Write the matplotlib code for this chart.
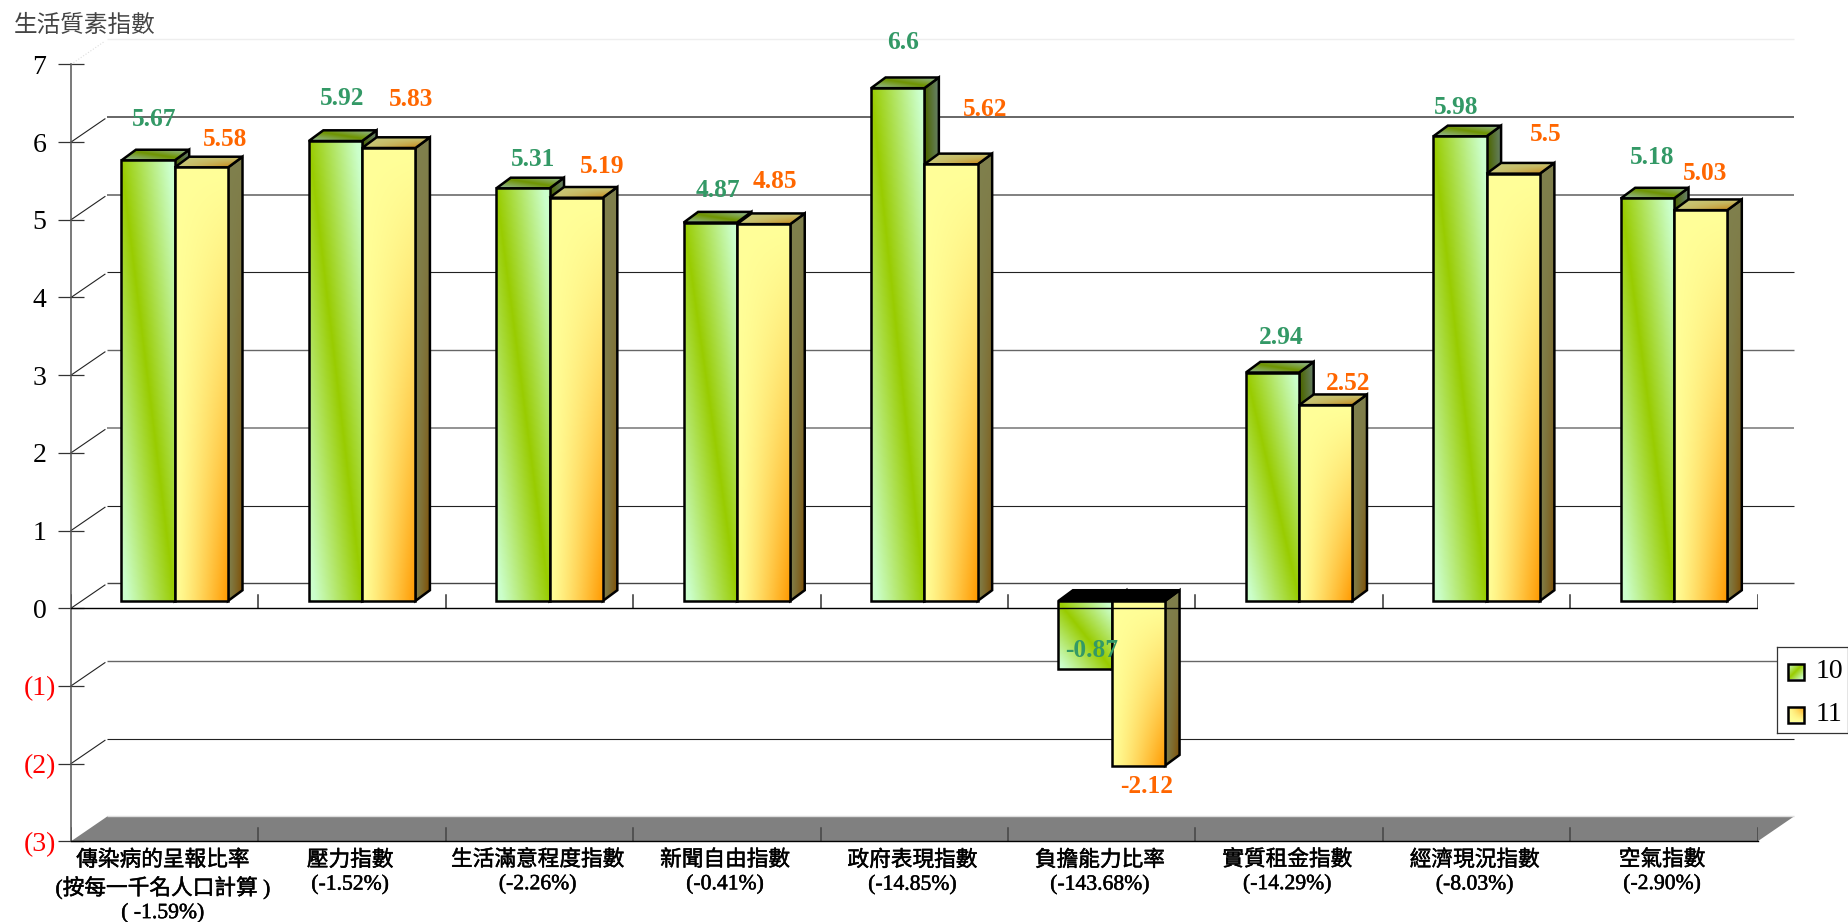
import numpy as np
import matplotlib
matplotlib.use("Agg")
import matplotlib.pyplot as plt
import matplotlib.patheffects as pe
from matplotlib.patches import Polygon
from matplotlib.transforms import ScaledTranslation

plt.rcParams["font.family"] = ["Liberation Serif", "Noto Sans CJK TC"]

# -----------------------------
# Data
# -----------------------------
categories = [
    "傳染病的呈報比率\n(按每一千名人口計算 )\n( -1.59%)",
    "壓力指數\n(-1.52%)",
    "生活滿意程度指數\n(-2.26%)",
    "新聞自由指數\n(-0.41%)",
    "政府表現指數\n(-14.85%)",
    "負擔能力比率\n(-143.68%)",
    "實質租金指數\n(-14.29%)",
    "經濟現況指數\n(-8.03%)",
    "空氣指數\n(-2.90%)",
]
values_10 = [5.67, 5.92, 5.31, 4.87, 6.6, -0.87, 2.94, 5.98, 5.18]
values_11 = [5.58, 5.83, 5.19, 4.85, 5.62, -2.12, 2.52, 5.5, 5.03]
y_levels = [7, 6, 5, 4, 3, 2, 1, 0, -1, -2, -3]
y_labels = ["7", "6", "5", "4", "3", "2", "1", "0", "(1)", "(2)", "(3)"]
series_names = ["10", "11"]

# label offsets from the bar end, in pixels
dx_10 = [6.5, 6.5, 10, 8, 5.5, 7, 8.5, -3.5, 4.5]
dy_10 = [41, 43, 29, 32, 46, 18, 35, 29, 41]
dx_11 = [23.5, 22, 25.5, 11.5, 34, 8, 22, 32, 4.5]
dy_11 = [28, 48, 31, 43, 55, -21, 22, 39, 37]

# wall line style per level: colour, width
wall_style = {
    7: ("#eeeeee", 1.0), 6: ("#666666", 1.4), 5: ("#808080", 1.4),
    4: ("#222222", 0.8), 3: ("#666666", 1.0), 2: ("#808080", 1.2),
    1: ("#222222", 0.8), 0: ("#444444", 1.0), -1: ("#666666", 1.0),
    -2: ("#222222", 0.8), -3: ("#dddddd", 1.0),
}

GREEN_DARK = np.array([0x99, 0xCC, 0x00]) / 255
GREEN_PALE = np.array([0xCC, 0xFF, 0xCC]) / 255
YELLOW = np.array([0xFF, 0xFF, 0x99]) / 255
ORANGE = np.array([0xFF, 0x99, 0x00]) / 255

W, H = 1849, 922
LEFT, RIGHT, TOP, BOTTOM = 71.0, 1757.7, 64.4, 841.3
PX_X = (RIGHT - LEFT) / 9
PX_Y = (BOTTOM - TOP) / 10

WALL_DX = 36.5 / PX_X
WALL_DY = 25.0 / PX_Y
DEPTH_X = 14.5 / PX_X
DEPTH_Y = 10.7 / PX_Y
BAR_SHIFT_X = 10.0 / PX_X
BAR_BASE = 7.3 / PX_Y
BAR_W = 53.3 / PX_X


def green_gradient(n=64, m=64, scale=1.0):
    u, v = np.meshgrid(np.linspace(0, 1, n), np.linspace(0, 1, m))
    s = np.clip(np.abs(u - v) / 0.9, 0, 1)[..., None]
    return (GREEN_DARK * (1 - s) + GREEN_PALE * s) * scale


def orange_gradient(n=64, m=64, scale=1.0):
    u, v = np.meshgrid(np.linspace(0, 1, n), np.linspace(0, 1, m))
    s = ((u * v) ** 1.2)[..., None]
    return (YELLOW * (1 - s) + ORANGE * s) * scale


def gradient_poly(ax, xs, ys, image, z):
    image_ax = ax.imshow(
        image,
        extent=(min(xs), max(xs), min(ys), max(ys)),
        origin="upper",
        aspect="auto",
        interpolation="bilinear",
        zorder=z,
    )
    poly = Polygon(
        list(zip(xs, ys)),
        closed=True,
        facecolor="none",
        edgecolor="black",
        linewidth=1.8,
        joinstyle="miter",
        zorder=z + 0.5,
    )
    ax.add_patch(poly)
    image_ax.set_clip_path(poly)
    image_ax.set_clip_on(True)


def draw_box(ax, bar, value, gradient, side_scale, top_scale, z):
    x0, x1 = bar.get_x(), bar.get_x() + bar.get_width()
    y_hi = max(BAR_BASE, BAR_BASE + value)
    y_lo = min(BAR_BASE, BAR_BASE + value)

    gradient_poly(
        ax,
        [x1, x1 + DEPTH_X, x1 + DEPTH_X, x1],
        [y_lo, y_lo + DEPTH_Y, y_hi + DEPTH_Y, y_hi],
        gradient(scale=side_scale),
        z,
    )

    top_xs = [x0, x0 + DEPTH_X, x1 + DEPTH_X, x1]
    top_ys = [y_hi, y_hi + DEPTH_Y, y_hi + DEPTH_Y, y_hi]
    if value < 0:
        gradient_poly(ax, top_xs, top_ys, np.zeros((2, 2, 3)), z + 1)
    else:
        gradient_poly(ax, top_xs, top_ys, gradient(scale=top_scale), z + 1)

    gradient_poly(
        ax,
        [x0, x1, x1, x0],
        [y_lo, y_lo, y_hi, y_hi],
        gradient(),
        z + 2,
    )


def main() -> None:
    fig = plt.figure(figsize=(W / 100, H / 100), dpi=100)
    ax = fig.add_axes([
        LEFT / W,
        1 - BOTTOM / H,
        (RIGHT - LEFT) / W,
        (BOTTOM - TOP) / H,
    ])
    ax.patch.set_visible(False)

    x = np.arange(len(categories)) + 0.5 + BAR_SHIFT_X

    # front faces come from plain bars, only the outline box stays hidden
    bars_10 = ax.bar(
        x - BAR_W / 2, values_10, BAR_W, bottom=BAR_BASE, fill=False, linewidth=0
    )
    bars_11 = ax.bar(
        x + BAR_W / 2, values_11, BAR_W, bottom=BAR_BASE, fill=False, linewidth=0
    )

    z = 10
    for i in range(len(categories)):
        draw_box(ax, bars_10[i], values_10[i], green_gradient, 0.5, 0.72, z)
        draw_box(ax, bars_11[i], values_11[i], orange_gradient, 0.5, 0.78, z + 3)
        z += 6

    ax.set_xlim(0, 9)
    ax.set_ylim(-3, 7)

    # -----------------------------
    # Floor and back wall
    # -----------------------------
    ax.fill(
        [0, WALL_DX, 9 + WALL_DX, 9],
        [-3, -3 + WALL_DY, -3 + WALL_DY, -3],
        color="#808080",
        linewidth=0,
        clip_on=False,
        zorder=1,
    )

    for level in y_levels:
        color, width = wall_style[level]
        ax.plot(
            [WALL_DX, 9 + WALL_DX],
            [level + WALL_DY, level + WALL_DY],
            color=color,
            linewidth=width,
            clip_on=False,
            solid_capstyle="butt",
            zorder=2,
        )
        if level == -3:
            continue
        ax.plot(
            [0, WALL_DX * 0.93],
            [level, level + WALL_DY * 0.93],
            color="#dddddd" if level == 7 else "#222222",
            linewidth=0.8,
            linestyle=":" if level == 7 else "-",
            clip_on=False,
            zorder=2,
        )

    # -----------------------------
    # Axes and ticks
    # -----------------------------
    for name in ["top", "right"]:
        ax.spines[name].set_visible(False)
    ax.spines["left"].set_color("#555555")
    ax.spines["left"].set_linewidth(1.1)
    ax.spines["bottom"].set_color("black")
    ax.spines["bottom"].set_linewidth(1.0)
    ax.spines["left"].set_zorder(5)
    ax.spines["bottom"].set_zorder(5)

    ax.axhline(0, color="black", linewidth=1.0, zorder=200)

    tick_h = 13.0 / PX_Y
    for pos in range(10):
        ax.plot([pos, pos], [0, tick_h], color="#333333", linewidth=1.1, zorder=3)
        ax.plot([pos, pos], [-3, -3 + tick_h], color="#444444", linewidth=1.1, zorder=3)

    ax.set_yticks(y_levels)
    ax.set_yticklabels(y_labels, fontsize=20, ha="center")
    ax.tick_params(
        axis="y",
        direction="inout",
        length=18.7,
        width=0.9,
        color="#333333",
        pad=13.3,
    )
    for tick_label, level in zip(ax.get_yticklabels(), y_levels):
        tick_label.set_color("red" if level < 0 else "black")

    ax.set_xticks(np.arange(len(categories)) + 0.5)
    ax.set_xticklabels(categories, fontsize=15.6, linespacing=1.3)
    ax.tick_params(axis="x", length=0, pad=6.5)
    shift = ScaledTranslation(-2 / 100, 0, fig.dpi_scale_trans)
    for tick_label in ax.get_xticklabels():
        tick_label.set_transform(tick_label.get_transform() + shift)
        tick_label.set_path_effects(
            [pe.withStroke(linewidth=0.35, foreground="black")]
        )

    # -----------------------------
    # Value labels
    # -----------------------------
    for i in range(len(categories)):
        for bar, value, dx, dy, color in [
            (bars_10[i], values_10[i], dx_10[i], dy_10[i], "#339966"),
            (bars_11[i], values_11[i], dx_11[i], dy_11[i], "#FF6600"),
        ]:
            ax.annotate(
                f"{value:g}",
                (bar.get_x() + bar.get_width() / 2, BAR_BASE + value),
                xytext=(dx, dy),
                textcoords="offset pixels",
                ha="center",
                va="center",
                color=color,
                fontsize=18.3,
                fontweight="bold",
                annotation_clip=False,
                zorder=300,
            )

    fig.text(14 / W, 1 - 26 / H, "生活質素指數", fontsize=17, color="#444444", va="center")

    # -----------------------------
    # Legend
    # -----------------------------
    leg = fig.add_axes([1777 / W, 1 - 733 / H, 71 / W, 86 / H])
    leg.set_xlim(0, 71)
    leg.set_ylim(86, 0)
    leg.set_xticks([])
    leg.set_yticks([])
    for spine in leg.spines.values():
        spine.set_color("#333333")
        spine.set_linewidth(0.9)

    for row, (name, gradient) in enumerate(
        zip(series_names, [green_gradient, orange_gradient])
    ):
        top = 16.5 + row * 43
        gradient_poly(
            leg,
            [11.5, 27.5, 27.5, 11.5],
            [top, top, top + 16, top + 16],
            gradient(),
            2,
        )
        leg.text(39, top + 8, name, fontsize=20, va="center", ha="left")

    leg.set_xlim(0, 71)
    leg.set_ylim(86, 0)

    fig.savefig("out.png", dpi=100)
    plt.close(fig)


if __name__ == "__main__":
    main()
